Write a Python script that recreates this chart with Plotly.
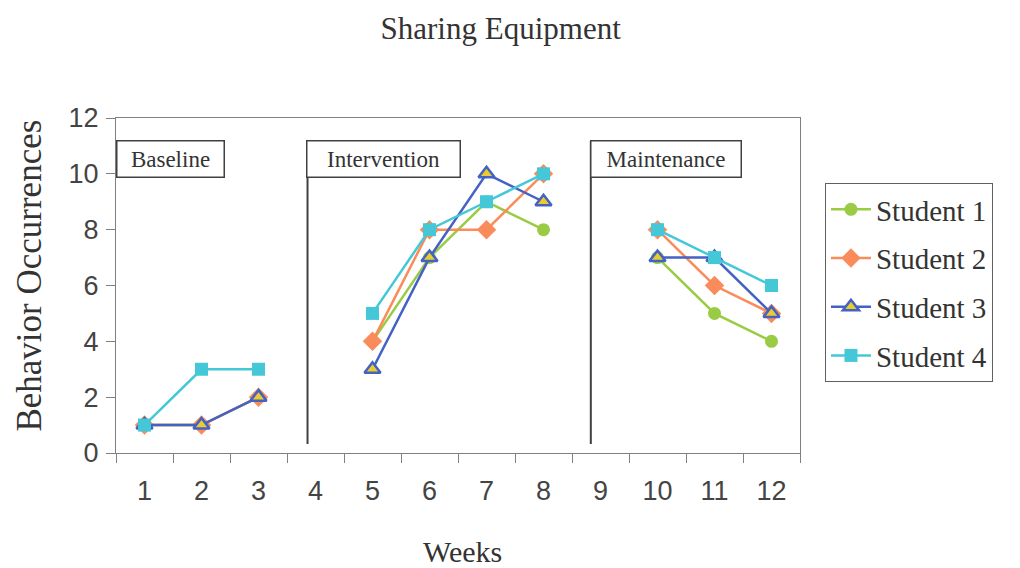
import plotly.graph_objects as go

weeks = ["1", "2", "3", "4", "5", "6", "7", "8", "9", "10", "11", "12"]
student1 = [1, 1, 2, None, 4, 7, 9, 8, None, 7, 5, 4]
student2 = [1, 1, 2, None, 4, 8, 8, 10, None, 8, 6, 5]
student3 = [1, 1, 2, None, 3, 7, 10, 9, None, 7, 7, 5]
student4 = [1, 3, 3, None, 5, 8, 9, 10, None, 8, 7, 6]
names = ["Student 1", "Student 2", "Student 3", "Student 4"]
phases = ["Baseline", "Intervention", "Maintenance"]
phase_x = [-0.5, 2.84, 7.81]   # category-index positions of phase boxes / change lines

SERIF = "Liberation Serif, Times New Roman, serif"
SANS = "Liberation Sans, Arial, sans-serif"

fig = go.Figure()
styles = [
    dict(color="#99CC44", symbol="circle", size=13, fill="#99CC44", lw=0),
    dict(color="#F98C5A", symbol="diamond", size=15, fill="#F98C5A", lw=0),
    dict(color="#4462C4", symbol="triangle-up", size=14, fill="#E8CC30", lw=2.5),
    dict(color="#44C8D8", symbol="square", size=13, fill="#44C8D8", lw=0),
]
for i, (nm, ys, st) in enumerate(zip(names, [student1, student2, student3, student4], styles)):
    fig.add_trace(go.Scatter(
        x=weeks, y=ys, name=nm, mode="lines+markers", legendgroup=nm,
        connectgaps=False,
        line=dict(color=st["color"], width=2.5),
        marker=dict(symbol=st["symbol"], size=st["size"], color=st["fill"],
                    line=dict(color=st["color"], width=st["lw"])),
    ))

# phase change lines
for px in phase_x[1:]:
    fig.add_shape(type="line", xref="x", yref="y", x0=px + 0.02, x1=px + 0.02,
                  y0=0.32, y1=11.18, line=dict(color="#404040", width=2))

box_w = [98, 144, 141]
for ph, px, w in zip(phases, phase_x, box_w):
    fig.add_annotation(text=ph, xref="x", yref="y", x=px, y=11.2,
                       xanchor="left", yanchor="top", showarrow=False,
                       width=w, height=27, align="center",
                       font=dict(family=SERIF, size=23, color="#333333"),
                       bordercolor="#404040", borderwidth=1.5, borderpad=4,
                       bgcolor="white")

fig.add_annotation(text="Weeks", xref="paper", yref="paper", x=0.506, y=-0.2955,
                   xanchor="center", yanchor="middle", showarrow=False,
                   font=dict(family=SERIF, size=30, color="#333333"))
fig.add_annotation(text="Behavior Occurrences", xref="paper", yref="paper", x=-0.127, y=0.53,
                   xanchor="center", yanchor="middle", showarrow=False, textangle=-90,
                   font=dict(family=SERIF, size=35, color="#333333"))

fig.update_layout(
    width=1020, height=568,
    margin=dict(l=108, r=228, t=110, b=123),
    paper_bgcolor="white", plot_bgcolor="white",
    title=dict(text="Sharing Equipment", x=0.483, xref="container", y=0.965,
               yref="container", xanchor="center", yanchor="middle",
               font=dict(family=SERIF, size=31, color="#333333")),
    showlegend=True,
    legend=dict(x=1.0365, y=0.806, xanchor="left", yanchor="top",
                bordercolor="#606060", borderwidth=1, bgcolor="white",
                font=dict(family=SERIF, size=29, color="#333333"),
                tracegroupgap=8, itemwidth=40),
    xaxis=dict(type="category", categoryorder="array", categoryarray=weeks,
               range=[-0.5, 11.5], tickson="boundaries", ticks="outside", ticklen=9,
               tickcolor="#808080", showline=True, linecolor="#808080", linewidth=1,
               mirror=True, showgrid=False, zeroline=False, ticklabelstandoff=14,
               tickfont=dict(family=SANS, size=27, color="#444444")),
    yaxis=dict(range=[0, 12], dtick=2, ticks="outside", ticklen=9, tickcolor="#808080",
               showline=True, linecolor="#808080", linewidth=1, mirror=True,
               showgrid=False, zeroline=False, ticklabelstandoff=2,
               tickfont=dict(family=SANS, size=27, color="#444444")),
)

fig.write_html("out.html")
